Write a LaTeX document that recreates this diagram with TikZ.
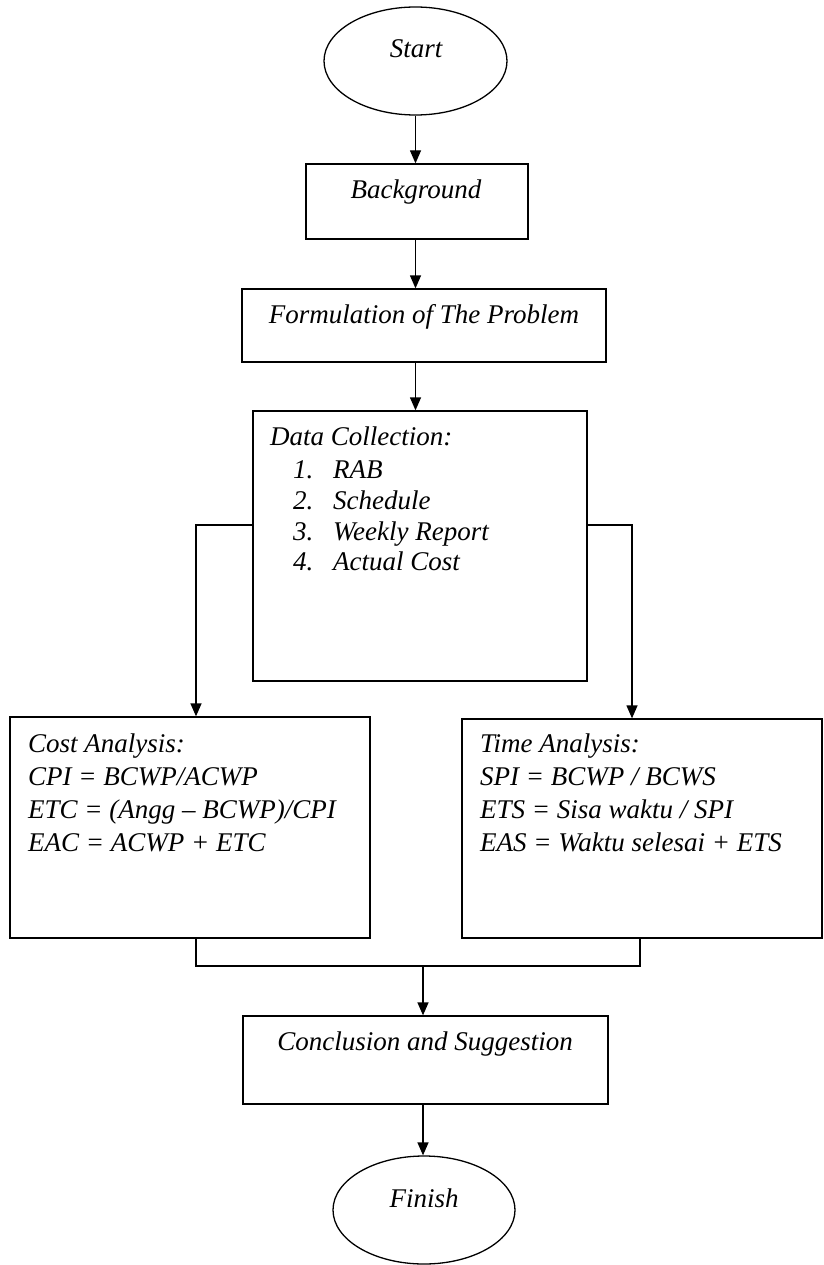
\documentclass[tikz,border=0pt]{standalone}
\usepackage{fontspec}
\setmainfont{Liberation Serif}
\usetikzlibrary{shapes.geometric,arrows.meta}
\begin{document}
\begin{tikzpicture}[x=1pt,y=-1pt,
  every node/.style={font=\fontsize{27}{32}\selectfont\itshape},
  box/.style={draw,line width=1.3pt,rectangle,inner sep=0pt,minimum width=#1},
  oval/.style={draw,line width=1.3pt,ellipse,inner sep=0pt,minimum width=183pt,minimum height=108pt},
  txt/.style={inner sep=0pt,anchor=base west},
  ctxt/.style={inner sep=0pt,anchor=base},
  line/.style={line width=1.3pt},
  arr/.style={line width=1.3pt,-{Triangle[length=13pt,width=11pt]}}]
\useasboundingbox (0,0) rectangle (823,1265);
% shapes
\node[oval] (start) at (415.5,61) {};
\node[box=222pt,minimum height=75pt] (bg) at (417,201.5) {};
\node[box=364pt,minimum height=73pt] (form) at (424,325.5) {};
\node[box=334pt,minimum height=270pt] (data) at (420,546) {};
\node[box=360pt,minimum height=221pt] (cost) at (190,827.5) {};
\node[box=360pt,minimum height=219pt] (time) at (642,828.5) {};
\node[box=365pt,minimum height=88pt] (concl) at (425.5,1060) {};
\node[oval,minimum width=182pt] (finish) at (424,1210) {};
% texts
\node[ctxt] (tstart) at (416,58) {Start};
\node[ctxt] (tbg) at (416,199) {Background};
\node[ctxt] (tform) at (424,323) {Formulation of The Problem};
\node[txt] (tdata) at (270,445) {Data Collection:};
\node[txt] (n1) at (293,478) {1.};
\node[txt] (n2) at (293,509) {2.};
\node[txt] (n3) at (293,540) {3.};
\node[txt] (n4) at (293,570) {4.};
\node[txt] (i1) at (333,478) {RAB};
\node[txt] (i2) at (333,509) {Schedule};
\node[txt] (i3) at (333,540) {Weekly Report};
\node[txt] (i4) at (333,570) {Actual Cost};
\node[txt] (c0) at (28,752) {Cost Analysis:};
\node[txt] (c1) at (28,785) {CPI = BCWP/ACWP};
\node[txt] (c2) at (28,818) {ETC = (Angg – BCWP)/CPI};
\node[txt] (c3) at (28,851) {EAC = ACWP + ETC};
\node[txt] (t0) at (480,752) {Time Analysis:};
\node[txt] (t1) at (480,785) {SPI = BCWP / BCWS};
\node[txt] (t2) at (480,818) {ETS = Sisa waktu / SPI};
\node[txt] (t3) at (480,851) {EAS = Waktu selesai + ETS};
\node[ctxt] (tconcl) at (425,1050) {Conclusion and Suggestion};
\node[ctxt] (tfinish) at (424,1207) {Finish};
% connectors
\coordinate (jl) at (196,525);
\coordinate (jr) at (632,525);
\coordinate (bl) at (196,966);
\coordinate (br) at (640,966);
\coordinate (bm) at (423,966);
\draw[arr] (start.south) -- (start.south |- bg.north);
\draw[arr] (bg.south -| start) -- (start |- form.north);
\draw[arr] (form.south -| start) -- (start |- data.north);
\draw[arr] (data.west |- jl) -- (jl) -- (jl |- cost.north);
\draw[arr] (data.east |- jr) -- (jr) -- (jr |- time.north);
\draw[line] (bl |- cost.south) -- (bl) -- (br) -- (br |- time.south);
\draw[arr] (bm) -- (bm |- concl.north);
\draw[arr] (concl.south -| bm) -- (bm |- finish.north);
\end{tikzpicture}
\end{document}
